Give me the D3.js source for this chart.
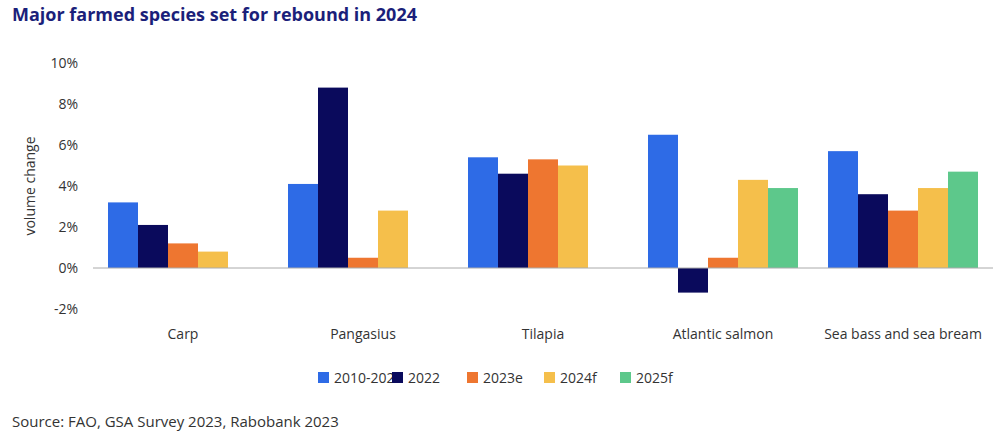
<!DOCTYPE html>
<html><head><meta charset="utf-8">
<script src="https://cdn.jsdelivr.net/npm/d3@7/dist/d3.min.js"></script>
<style>body{margin:0;background:#fff;font-family:"Segoe UI","Open Sans",sans-serif}</style>
</head><body><svg id="c" width="998" height="439"></svg>
<script>
const categories=["Carp","Pangasius","Tilapia","Atlantic salmon","Sea bass and sea bream"];
const seriesNames=["2010-2021","2022","2023e","2024f","2025f"];
const colors=["#2e6be6","#0a0a5c","#ee7630","#f5bf4b","#5dc88b"];
const s2010=[3.2,4.1,5.4,6.5,5.7];
const s2022=[2.1,8.8,4.6,-1.2,3.6];
const s2023=[1.2,0.5,5.3,0.5,2.8];
const s2024=[0.8,2.8,5.0,4.3,3.9];
const s2025=[null,null,null,3.9,4.7];
const yTicks=[-2,0,2,4,6,8,10];
const series=[s2010,s2022,s2023,s2024,s2025];
const svg=d3.select("#c");
svg.append("text").attr("x",12).attr("y",21).text("Major farmed species set for rebound in 2024")
 .attr("font-size",18).attr("font-weight",700).attr("fill","#1b1f7a");
const x=d3.scaleBand().domain(categories).range([93,993]);
const xi=d3.scaleBand().domain(seriesNames).range([0,x.bandwidth()]).paddingOuter(0.5);
const y=d3.scaleLinear().domain([-2,10]).range([309,63]);
yTicks.forEach(t=>svg.append("text").attr("x",78).attr("y",y(t)+5).attr("text-anchor","end")
 .attr("font-size",14).attr("fill","#333").text(t+"%"));
svg.append("text").attr("transform","translate(35,"+y(4)+") rotate(-90)").attr("text-anchor","middle")
 .attr("font-size",14).attr("fill","#333").text("volume change");
series.forEach((s,si)=>{
 categories.forEach((c,ci)=>{
  const v=s[ci]; if(v==null) return;
  svg.append("rect").attr("x",x(c)+xi(seriesNames[si])).attr("width",xi.bandwidth())
   .attr("y",y(Math.max(0,v))).attr("height",Math.abs(y(v)-y(0))).attr("fill",colors[si]);
 });
});
svg.append("line").attr("x1",93).attr("x2",993).attr("y1",y(0)).attr("y2",y(0)).attr("stroke","#aaa");
categories.forEach(c=>svg.append("text").attr("x",x(c)+x.bandwidth()/2).attr("y",339).attr("text-anchor","middle")
 .attr("font-size",14).attr("fill","#333").text(c));
const lx=[318,392,467,544,620];
seriesNames.forEach((n,i)=>{
 svg.append("rect").attr("x",lx[i]).attr("y",372).attr("width",11).attr("height",11).attr("fill",colors[i]);
 svg.append("text").attr("x",lx[i]+16).attr("y",383).attr("font-size",14).attr("fill","#333").text(n);
});
svg.append("text").attr("x",12).attr("y",427).attr("font-size",15).attr("fill","#333").text("Source: FAO, GSA Survey 2023, Rabobank 2023");
</script></body></html>
